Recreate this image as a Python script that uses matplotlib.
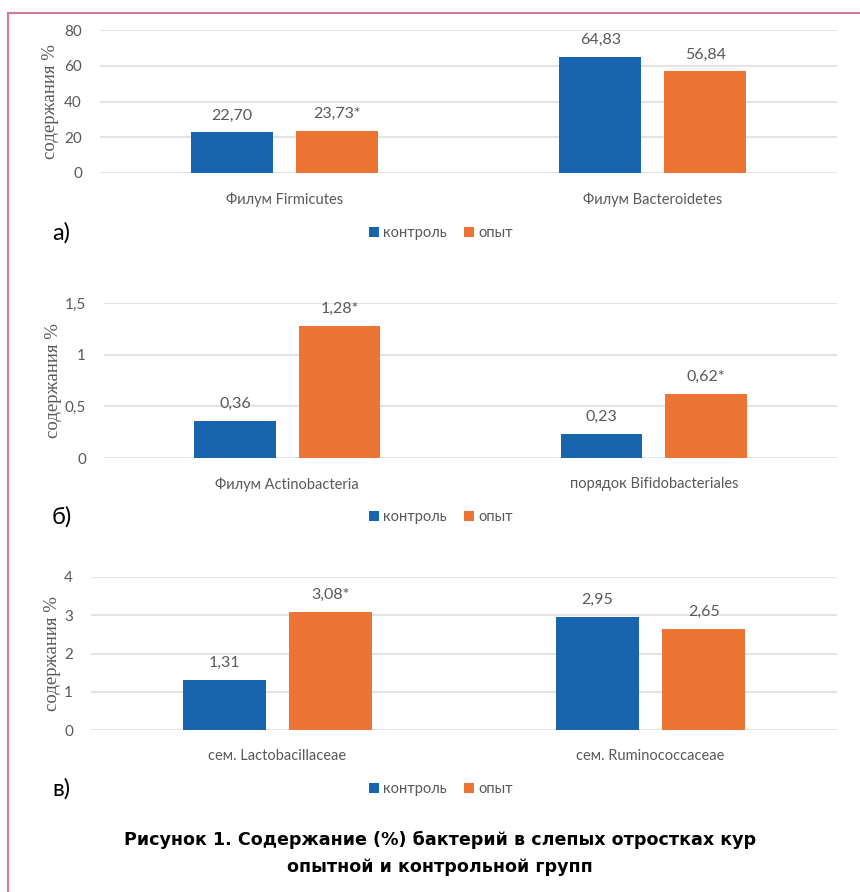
import matplotlib.pyplot as plt
from matplotlib.lines import Line2D
import numpy as np

# Данные по трём группам бактерий
groups = ["контроль", "опыт"]

cats_a = ["Филум Firmicutes", "Филум Bacteroidetes"]
control_a = [22.70, 64.83]
test_a = [23.73, 56.84]

cats_b = ["Филум Actinobacteria", "порядок Bifidobacteriales"]
control_b = [0.36, 0.23]
test_b = [1.28, 0.62]

cats_c = ["сем. Lactobacillaceae", "сем. Ruminococcaceae"]
control_c = [1.31, 2.95]
test_c = [3.08, 2.65]

# звёздочка — достоверное отличие от контроля
star_a = [True, False]
star_b = [True, True]
star_c = [True, False]

ticks_a = [0, 20, 40, 60, 80]
ticks_b = [0, 0.5, 1, 1.5]
ticks_c = [0, 1, 2, 3, 4]

BLUE = "#1865AD"
ORANGE = "#EC7434"
GRAY = "#595959"
GRID = "#E4E4E4"
W, H = 860, 892

fig = plt.figure(figsize=(W / 100, H / 100), dpi=100)


def fmt(v):
    return f"{v:.2f}".replace(".", ",")


def tick_fmt(v):
    s = f"{v:g}"
    return s.replace(".", ",")


def panel(box, cats, ctrl, test, stars, ticks, letter, legend_y, ylab_x):
    x0, y_top, x1, y_bot = box
    ax = fig.add_axes([x0 / W, 1 - y_bot / H, (x1 - x0) / W, (y_bot - y_top) / H])
    x = np.arange(len(cats))
    bw = 0.223
    off = 0.1425
    b1 = ax.bar(x - off, ctrl, bw, color=BLUE, label=groups[0], zorder=3)
    b2 = ax.bar(x + off, test, bw, color=ORANGE, label=groups[1], zorder=3)
    for xi, v in zip(x - off, ctrl):
        ax.annotate(fmt(v), (xi, v), xytext=(0, 17), textcoords="offset pixels",
                    ha="center", va="center", fontsize=11.5, color=GRAY,
                    family="Lato")
    for xi, v, s in zip(x + off, test, stars):
        ax.annotate(fmt(v) + ("*" if s else ""), (xi, v), xytext=(0, 17),
                    textcoords="offset pixels", ha="center", va="center",
                    fontsize=11.5, color=GRAY, family="Lato")
    ax.set_xlim(-0.5, len(cats) - 0.5)
    ax.set_ylim(ticks[0], ticks[-1])
    ax.set_yticks(ticks)
    ax.set_yticklabels([tick_fmt(t) for t in ticks], family="Lato",
                       fontsize=11, color=GRAY)
    ax.set_xticks(x)
    ax.set_xticklabels(cats, family="Lato", fontsize=10.5, color=GRAY)
    ax.tick_params(length=0)
    ax.tick_params(axis="y", pad=13)
    ax.tick_params(axis="x", pad=14)
    for sp in ax.spines.values():
        sp.set_visible(False)
    ax.yaxis.grid(True, color=GRID, linewidth=1.5, zorder=0)
    ax.set_axisbelow(True)
    ax.set_ylabel("содержания %", family="Liberation Serif", fontsize=13.5,
                  color=GRAY)
    ax.yaxis.set_label_coords(ylab_x / W, 1 - (y_top + y_bot) / 2 / H,
                              transform=fig.transFigure)
    fig.legend(handles=[b1, b2], loc="center", ncol=2, frameon=False,
               bbox_to_anchor=(441 / W, 1 - legend_y / H),
               prop={"family": "Lato", "size": 10.5}, labelcolor=GRAY,
               handlelength=0.7, handleheight=0.7, handletextpad=0.3,
               columnspacing=1.2)
    fig.text(52 / W, 1 - legend_y / H, letter, fontsize=17, ha="left",
             va="center", family="Lato", color="black")
    return ax


panel((100, 30, 837, 173), cats_a, control_a, test_a, star_a, ticks_a,
      "а)", 233, 59)
panel((104, 303, 837, 458), cats_b, control_b, test_b, star_b, ticks_b,
      "б)", 517, 62)
panel((91, 577, 837, 730), cats_c, control_c, test_c, star_c, ticks_c,
      "в)", 789, 61)

fig.text(440 / W, 1 - 840 / H,
         "Рисунок 1. Содержание (%) бактерий в слепых отростках кур",
         ha="center", va="center", fontsize=12.6, fontweight="bold",
         family="DejaVu Sans")
fig.text(440 / W, 1 - 867 / H, "опытной и контрольной групп",
         ha="center", va="center", fontsize=12.6, fontweight="bold",
         family="DejaVu Sans")

# розовая рамка сверху и слева
pink = "#CF7A98"
fig.add_artist(Line2D([8 / W, 1], [1 - 13 / H, 1 - 13 / H], color=pink,
                      linewidth=1.5, transform=fig.transFigure))
fig.add_artist(Line2D([8 / W, 8 / W], [0, 1 - 13 / H], color=pink,
                      linewidth=1.5, transform=fig.transFigure))

fig.savefig("out.png", dpi=100)
